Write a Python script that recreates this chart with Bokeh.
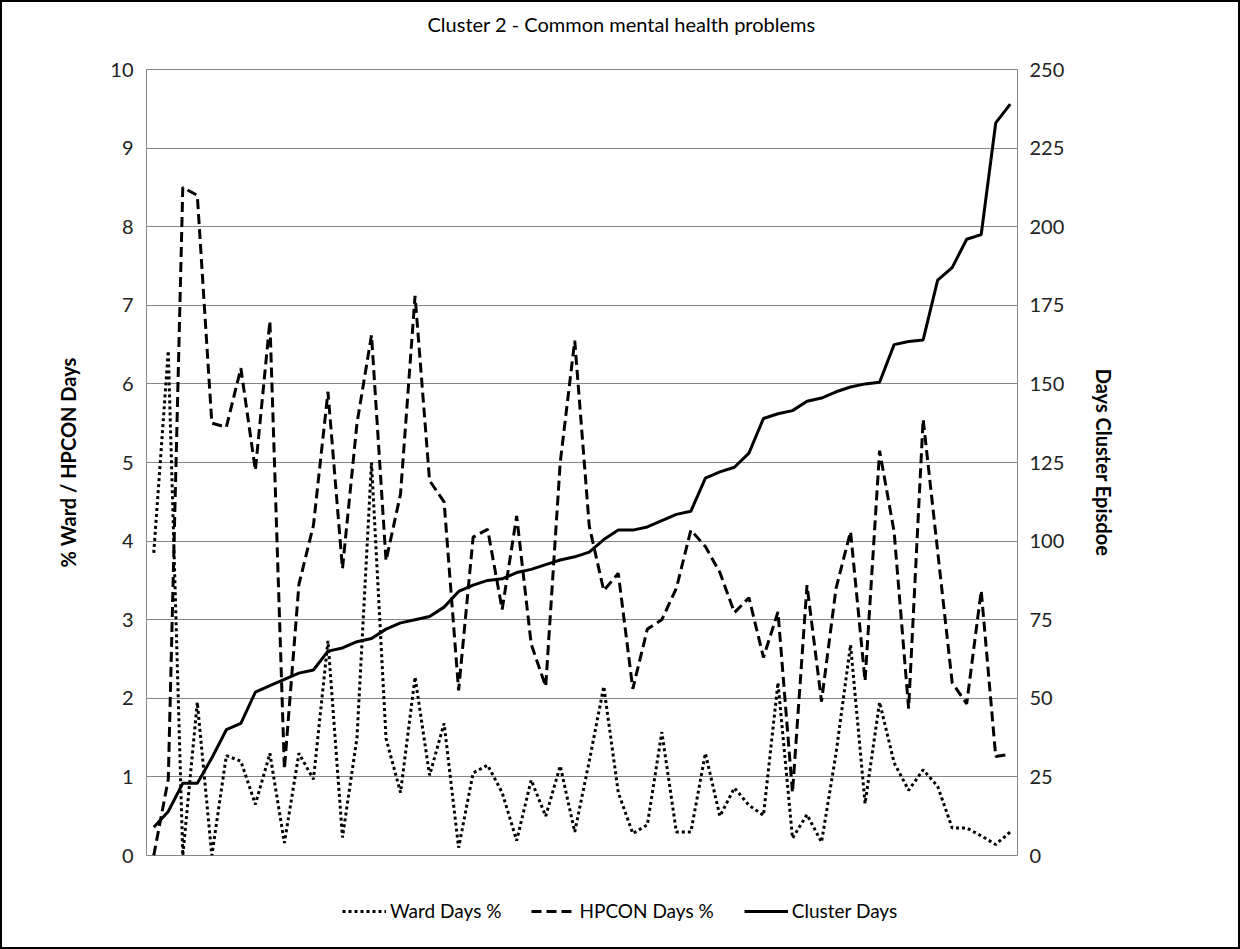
from bokeh.plotting import figure
from bokeh.layouts import column
from bokeh.models import Range1d, LinearAxis, Legend, LegendItem, FixedTicker
from bokeh.embed import file_html
from bokeh.resources import INLINE

categories = list(range(1, 61))
ward = [3.85, 6.42, 0.0, 1.95, 0.0, 1.27, 1.2, 0.65, 1.3, 0.16,
        1.3, 0.97, 2.73, 0.23, 1.5, 5.0, 1.49, 0.8, 2.27, 1.02,
        1.68, 0.1, 1.05, 1.15, 0.8, 0.19, 0.96, 0.5, 1.14, 0.3,
        1.2, 2.15, 0.8, 0.28, 0.39, 1.57, 0.3, 0.3, 1.3, 0.5,
        0.86, 0.64, 0.51, 2.2, 0.22, 0.52, 0.17, 1.3, 2.68, 0.66,
        1.95, 1.18, 0.83, 1.09, 0.88, 0.35, 0.35, 0.25, 0.14, 0.3]
hpcon = [0.0, 0.97, 8.5, 8.4, 5.5, 5.45, 6.2, 4.9, 6.8, 1.1,
         3.45, 4.2, 5.9, 3.65, 5.5, 6.62, 3.75, 4.6, 7.12, 4.77,
         4.5, 2.1, 4.05, 4.15, 3.13, 4.32, 2.69, 2.15, 5.0, 6.55,
         4.19, 3.37, 3.59, 2.12, 2.88, 3.0, 3.4, 4.14, 3.93, 3.6,
         3.09, 3.28, 2.52, 3.1, 0.8, 3.44, 1.96, 3.4, 4.12, 2.22,
         5.15, 4.12, 1.87, 5.55, 3.87, 2.2, 1.93, 3.37, 1.26, 1.29]
cluster = [9, 14, 23, 23, 31, 40, 42, 52, 54, 56,
           58, 59, 65, 66, 68, 69, 72, 74, 75, 76,
           79, 84, 86, 87.5, 88, 90, 91, 92.5, 94, 95,
           96.5, 100.5, 103.5, 103.5, 104.5, 106.5, 108.5, 109.5, 120, 122,
           123.5, 128, 139, 140.5, 141.5, 144.5, 145.5, 147.5, 149, 150,
           150.5, 162.5, 163.5, 164, 183, 187, 196, 197.5, 233, 239]
left_ticks = list(range(0, 11))
right_ticks = list(range(0, 251, 25))
series_names = ["Ward Days %", "HPCON Days %", "Cluster Days"]

FONT = "Lato"
GRID = "#868686"
DASHES = ["3 3", "10 5", "solid"]

p = figure(width=1236, height=867, output_backend="svg", toolbar_location=None,
           x_range=Range1d(0.5, 60.5), y_range=Range1d(0, 10),
           x_axis_location=None,
           min_border_left=144, min_border_right=221,
           min_border_top=67, min_border_bottom=14)
p.extra_y_ranges = {"days": Range1d(0, 250)}
p.outline_line_color = GRID
p.outline_line_width = 1
p.xgrid.grid_line_color = None
p.ygrid.grid_line_color = GRID
p.ygrid.ticker = FixedTicker(ticks=left_ticks)

p.title.text = "Cluster 2 - Common mental health problems\n "
p.title.text_font = FONT
p.title.text_font_size = "20px"
p.title.text_font_style = "normal"
p.title.text_color = "black"
p.title.align = "left"
p.title.offset = 281
p.title.vertical_align = "top"
p.title.standoff = 16

la = p.yaxis[0]
la.ticker = FixedTicker(ticks=left_ticks)
la.axis_label = "% Ward / HPCON Days"
la.axis_label_text_font = FONT
la.axis_label_text_font_style = "bold"
la.axis_label_text_font_size = "20px"
la.axis_label_text_color = "black"
la.axis_label_standoff = 27
la.major_label_text_font = FONT
la.major_label_text_font_size = "20px"
la.major_label_text_color = "#222222"
la.major_label_standoff = 7
la.major_tick_line_color = None
la.minor_tick_line_color = None
la.axis_line_color = None

ra = LinearAxis(y_range_name="days", ticker=FixedTicker(ticks=right_ticks))
ra.axis_label = "Days Cluster Episdoe"
ra.axis_label_text_font = FONT
ra.axis_label_text_font_style = "bold"
ra.axis_label_text_font_size = "20px"
ra.axis_label_text_color = "black"
ra.axis_label_standoff = 25
ra.major_label_text_font = FONT
ra.major_label_text_font_size = "20px"
ra.major_label_text_color = "#222222"
ra.major_label_standoff = 6
ra.major_tick_line_color = None
ra.minor_tick_line_color = None
ra.axis_line_color = None
p.add_layout(ra, "right")

p.line(categories, ward, line_color="black", line_width=3, line_dash=DASHES[0])
p.line(categories, hpcon, line_color="black", line_width=3, line_dash=DASHES[1])
p.line(categories, cluster, line_color="black", line_width=3, line_dash=DASHES[2],
       y_range_name="days")

# legend strip below the chart (same series, drawn outside its visible range)
leg = figure(width=1236, height=78, output_backend="svg", toolbar_location=None,
             x_range=Range1d(-20, -19), y_range=Range1d(0, 10),
             x_axis_location=None, y_axis_location=None,
             min_border=0, min_border_left=0, min_border_right=0,
             min_border_top=0, min_border_bottom=0)
leg.outline_line_color = None
leg.grid.grid_line_color = None
l1 = leg.line(categories, ward, line_color="black", line_width=3, line_dash=DASHES[0])
l2 = leg.line(categories, hpcon, line_color="black", line_width=3, line_dash=DASHES[1])
l3 = leg.line(categories, cluster, line_color="black", line_width=3, line_dash=DASHES[2])

legend = Legend(items=[LegendItem(label=series_names[0], renderers=[l1]),
                       LegendItem(label=series_names[1], renderers=[l2]),
                       LegendItem(label=series_names[2], renderers=[l3])],
                orientation="horizontal", location=(196, 25),
                border_line_color=None, background_fill_alpha=0,
                label_text_font=FONT, label_text_font_size="19px",
                label_text_color="black",
                glyph_width=44, spacing=30, label_standoff=4, padding=4, margin=0)
leg.add_layout(legend)

layout = column(p, leg, spacing=0, styles={"border": "2px solid black"})

open("out.html", "w").write(file_html(layout, INLINE))
